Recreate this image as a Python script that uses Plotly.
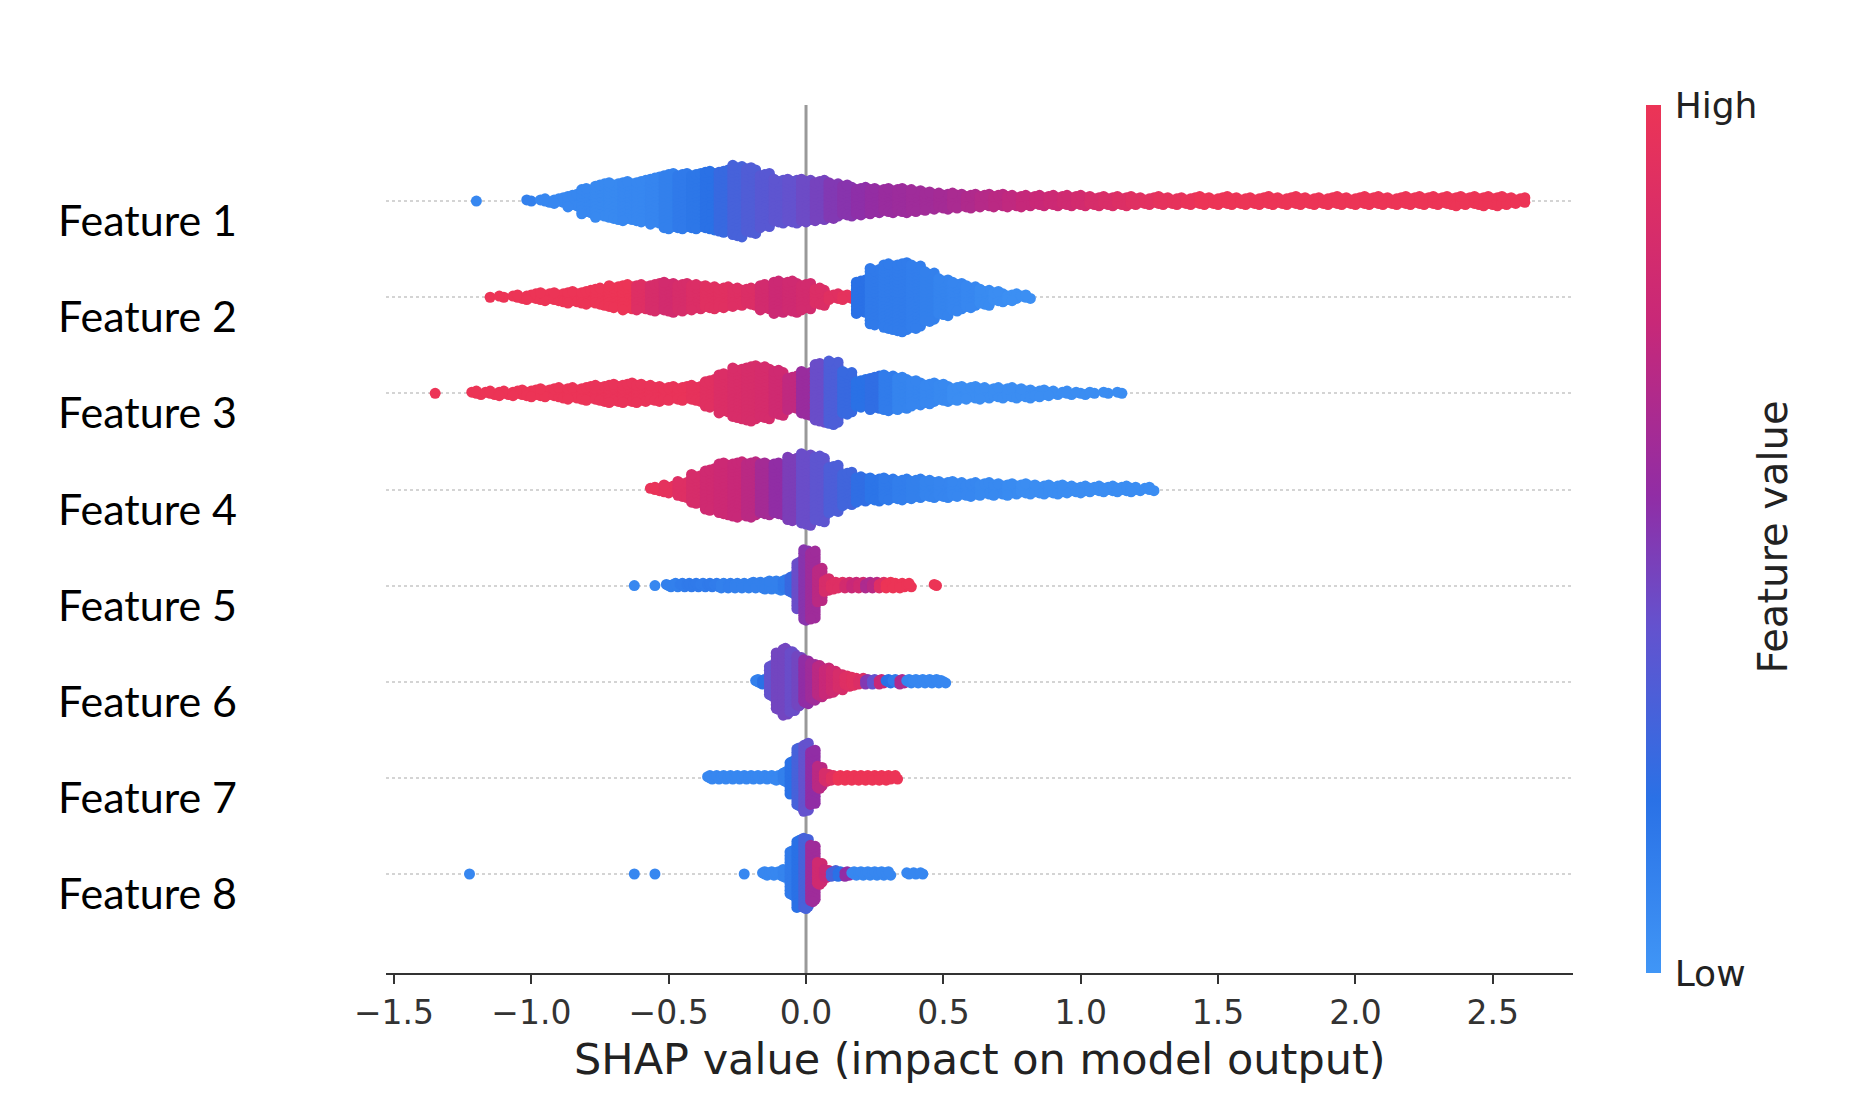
"""
SHAP beeswarm summary plot (8 features) rebuilt with Plotly.
Each feature is stored as a histogram of SHAP values: bin centre,
number of points in the bin and mean feature value (0 = low, 1 = high).
The swarm layout (vertical stacking inside a bin) is done in swarm().
"""

import plotly.graph_objects as go

FEATURES = ["Feature 1", "Feature 2", "Feature 3", "Feature 4",
            "Feature 5", "Feature 6", "Feature 7", "Feature 8"]

X_TICKS = [-1.5, -1.0, -0.5, 0.0, 0.5, 1.0, 1.5, 2.0, 2.5]
X_TICK_TEXT = ["\u22121.5", "\u22121.0", "\u22120.5", "0.0", "0.5", "1.0", "1.5", "2.0", "2.5"]

# ── Feature 1 (bins of 0.05) ────────────────────────────────────────────────
F1_SHAP = [-1.20, -1.00, -0.95, -0.90, -0.85, -0.80, -0.75, -0.70, -0.65, -0.60,
           -0.55, -0.50, -0.45, -0.40, -0.35, -0.30, -0.25, -0.20, -0.15, -0.10,
           -0.05, 0.00, 0.05, 0.10, 0.15, 0.20, 0.25, 0.30, 0.35, 0.40,
           0.45, 0.50, 0.55, 0.60, 0.65, 0.70, 0.75, 0.80, 0.85, 0.90,
           0.95, 1.00, 1.05, 1.10, 1.15, 1.20, 1.25, 1.30, 1.35, 1.40,
           1.45, 1.50, 1.55, 1.60, 1.65, 1.70, 1.75, 1.80, 1.85, 1.90,
           1.95, 2.00, 2.05, 2.10, 2.15, 2.20, 2.25, 2.30, 2.35, 2.40,
           2.45, 2.50, 2.55, 2.60]
F1_COUNT = [1, 2, 4, 6, 12, 23, 30, 33, 35, 37,
            42, 49, 49, 49, 52, 55, 63, 58, 48, 39,
            39, 38, 36, 32, 28, 25, 23, 22, 22, 20,
            17, 15, 14, 13, 12, 12, 11, 11, 10, 10,
            10, 10, 9, 9, 9, 8, 7, 8, 7, 7,
            8, 7, 8, 7, 7, 8, 7, 8, 7, 7,
            8, 7, 8, 8, 7, 8, 8, 8, 9, 8,
            9, 9, 8, 6]
F1_VALUE = [0.08, 0.12, 0.08, 0.08, 0.08, 0.08, 0.07, 0.07, 0.08, 0.08,
            0.09, 0.12, 0.15, 0.17, 0.20, 0.25, 0.30, 0.33, 0.36, 0.38,
            0.40, 0.43, 0.46, 0.50, 0.52, 0.54, 0.56, 0.58, 0.59, 0.60,
            0.61, 0.62, 0.64, 0.66, 0.68, 0.70, 0.72, 0.74, 0.76, 0.78,
            0.80, 0.82, 0.85, 0.87, 0.89, 0.91, 0.93, 0.95, 0.96, 0.98,
            1.0, 1.0, 1.0, 1.0, 1.0, 1.0, 1.0, 1.0, 1.0, 1.0,
            1.0, 1.0, 1.0, 1.0, 1.0, 1.0, 1.0, 1.0, 1.0, 1.0,
            1.0, 1.0, 1.0, 1.0]

# ── Feature 2 (bins of 0.05) ────────────────────────────────────────────────
F2_SHAP = [-1.15, -1.10, -1.05, -1.00, -0.95, -0.90, -0.85, -0.80, -0.75, -0.70,
           -0.65, -0.60, -0.55, -0.50, -0.45, -0.40, -0.35, -0.30, -0.25, -0.20,
           -0.15, -0.10, -0.05, 0.00, 0.05, 0.10, 0.15, 0.20, 0.25, 0.30,
           0.35, 0.40, 0.45, 0.50, 0.55, 0.60, 0.65, 0.70, 0.75, 0.80]
F2_COUNT = [1, 2, 4, 6, 8, 9, 11, 13, 16, 20,
            23, 23, 25, 27, 25, 23, 21, 19, 17, 16,
            23, 29, 28, 24, 16, 6, 5, 30, 50, 58,
            61, 56, 44, 33, 26, 20, 15, 10, 7, 4]
F2_VALUE = [1.0, 1.0, 1.0, 1.0, 1.0, 1.0, 1.0, 1.0, 1.0, 1.0,
            1.0, 0.90, 0.85, 0.82, 0.85, 0.88, 0.92, 0.92, 0.90, 0.88,
            0.82, 0.78, 0.80, 0.82, 0.88, 0.92, 0.95, 0.20, 0.15, 0.14,
            0.14, 0.13, 0.12, 0.10, 0.09, 0.08, 0.06, 0.05, 0.04, 0.04]

# ── Feature 3 (bins of 0.05) ────────────────────────────────────────────────
F3_SHAP = [-1.35, -1.20, -1.15, -1.10, -1.05, -1.00, -0.95, -0.90, -0.85, -0.80,
           -0.75, -0.70, -0.65, -0.60, -0.55, -0.50, -0.45, -0.40, -0.35, -0.30,
           -0.25, -0.20, -0.15, -0.10, -0.05, 0.00, 0.05, 0.10, 0.15, 0.20,
           0.25, 0.30, 0.35, 0.40, 0.45, 0.50, 0.55, 0.60, 0.65, 0.70,
           0.75, 0.80, 0.85, 0.90, 0.95, 1.00, 1.05, 1.10, 1.15]
F3_COUNT = [1, 4, 4, 5, 6, 7, 8, 10, 11, 13,
            15, 17, 18, 17, 15, 13, 13, 15, 25, 35,
            45, 49, 46, 40, 30, 39, 52, 56, 38, 25,
            30, 32, 29, 23, 19, 16, 13, 12, 11, 10,
            10, 9, 7, 5, 4, 3, 2, 2, 2]
F3_VALUE = [1.0, 1.0, 1.0, 1.0, 1.0, 1.0, 1.0, 0.99, 0.99, 0.99,
            0.98, 0.98, 0.98, 0.98, 0.98, 0.98, 0.98, 0.96, 0.92, 0.88,
            0.86, 0.85, 0.84, 0.80, 0.72, 0.58, 0.42, 0.32, 0.25, 0.20,
            0.22, 0.14, 0.10, 0.09, 0.08, 0.07, 0.05, 0.05, 0.05, 0.05,
            0.05, 0.05, 0.05, 0.05, 0.05, 0.05, 0.05, 0.05, 0.05]

# ── Feature 4 (bins of 0.05) ────────────────────────────────────────────────
F4_SHAP = [-0.55, -0.50, -0.45, -0.40, -0.35, -0.30, -0.25, -0.20, -0.15, -0.10,
           -0.05, 0.00, 0.05, 0.10, 0.15, 0.20, 0.25, 0.30, 0.35, 0.40,
           0.45, 0.50, 0.55, 0.60, 0.65, 0.70, 0.75, 0.80, 0.85, 0.90,
           0.95, 1.00, 1.05, 1.10, 1.15, 1.20, 1.25]
F4_COUNT = [4, 8, 15, 26, 37, 46, 49, 49, 46, 46,
            56, 63, 58, 42, 30, 23, 21, 20, 19, 18,
            16, 15, 14, 13, 12, 11, 11, 10, 9, 9,
            8, 7, 6, 6, 6, 5, 4]
F4_VALUE = [0.98, 0.95, 0.90, 0.85, 0.80, 0.78, 0.75, 0.70, 0.62, 0.55,
            0.48, 0.42, 0.38, 0.32, 0.28, 0.22, 0.18, 0.15, 0.13, 0.12,
            0.10, 0.09, 0.08, 0.08, 0.07, 0.07, 0.06, 0.05, 0.05, 0.05,
            0.05, 0.05, 0.05, 0.05, 0.05, 0.05, 0.05]

# ── Feature 5 (bins of 0.025) ───────────────────────────────────────────────
F5_SHAP = [-0.625, -0.55, -0.50, -0.475, -0.45, -0.425, -0.40, -0.375, -0.35, -0.325,
           -0.30, -0.275, -0.25, -0.225, -0.20, -0.175, -0.15, -0.125, -0.10, -0.075,
           -0.05, -0.025, 0.0, 0.025, 0.05, 0.075, 0.10, 0.125, 0.15, 0.175,
           0.20, 0.225, 0.25, 0.275, 0.30, 0.325, 0.35, 0.375, 0.475]
F5_COUNT = [1, 1, 3, 4, 4, 4, 4, 4, 4, 4,
            5, 5, 5, 5, 6, 6, 7, 8, 9, 10,
            16, 42, 62, 60, 30, 12, 7, 6, 6, 6,
            6, 6, 6, 6, 6, 5, 5, 4, 2]
F5_VALUE = [0.08, 0.08, 0.12, 0.12, 0.14, 0.15, 0.15, 0.14, 0.15, 0.14,
            0.12, 0.13, 0.12, 0.12, 0.12, 0.12, 0.12, 0.12, 0.12, 0.15,
            0.25, 0.42, 0.52, 0.60, 0.70, 0.85, 0.90, 0.90, 0.82, 0.75,
            0.80, 0.65, 0.70, 0.90, 1.0, 1.0, 1.0, 1.0, 1.0]

# ── Feature 6 (bins of 0.025) ───────────────────────────────────────────────
F6_SHAP = [-0.175, -0.15, -0.125, -0.10, -0.075, -0.05, -0.025, 0.0, 0.025, 0.05,
           0.075, 0.10, 0.125, 0.15, 0.175, 0.20, 0.225, 0.25, 0.275, 0.30,
           0.325, 0.35, 0.375, 0.40, 0.425, 0.45, 0.475, 0.50]
F6_COUNT = [4, 5, 28, 50, 59, 53, 44, 39, 33, 28,
            24, 20, 15, 10, 8, 6, 5, 5, 5, 4,
            4, 5, 4, 4, 4, 4, 4, 3]
F6_VALUE = [0.12, 0.20, 0.40, 0.45, 0.45, 0.42, 0.45, 0.55, 0.60, 0.70,
            0.75, 0.80, 0.85, 0.90, 0.92, 0.88, 0.50, 0.40, 0.75, 0.20,
            0.15, 0.65, 0.10, 0.08, 0.08, 0.08, 0.08, 0.08]

# ── Feature 7 (bins of 0.025) ───────────────────────────────────────────────
F7_SHAP = [-0.35, -0.325, -0.30, -0.275, -0.25, -0.225, -0.20, -0.175, -0.15, -0.125,
           -0.10, -0.075, -0.05, -0.025, 0.0, 0.025, 0.05, 0.075, 0.10, 0.125,
           0.15, 0.175, 0.20, 0.225, 0.25, 0.275, 0.30, 0.325]
F7_COUNT = [4, 4, 4, 4, 4, 4, 4, 4, 4, 4,
            5, 10, 30, 52, 60, 48, 20, 8, 5, 5,
            5, 5, 5, 5, 5, 5, 5, 4]
F7_VALUE = [0.08, 0.08, 0.08, 0.08, 0.08, 0.08, 0.08, 0.08, 0.08, 0.08,
            0.08, 0.12, 0.20, 0.30, 0.40, 0.55, 0.70, 0.85, 0.92, 1.0,
            1.0, 1.0, 1.0, 1.0, 1.0, 1.0, 1.0, 1.0]

# ── Feature 8 (bins of 0.025) ───────────────────────────────────────────────
F8_SHAP = [-1.225, -0.625, -0.55, -0.225, -0.15, -0.125, -0.10, -0.075, -0.05, -0.025,
           0.0, 0.025, 0.05, 0.075, 0.10, 0.125, 0.15, 0.175, 0.20, 0.225,
           0.25, 0.275, 0.30, 0.375, 0.40, 0.425]
F8_COUNT = [1, 1, 1, 1, 4, 4, 4, 8, 40, 60,
            62, 50, 20, 8, 6, 5, 5, 4, 4, 4,
            4, 4, 4, 2, 2, 2]
F8_VALUE = [0.08, 0.08, 0.08, 0.08, 0.08, 0.08, 0.08, 0.10, 0.15, 0.20,
            0.30, 0.60, 0.80, 0.75, 0.30, 0.20, 0.55, 0.08, 0.08, 0.08,
            0.08, 0.08, 0.08, 0.08, 0.08, 0.08]

SERIES = [
    (F1_SHAP, F1_COUNT, F1_VALUE, 0.05),
    (F2_SHAP, F2_COUNT, F2_VALUE, 0.05),
    (F3_SHAP, F3_COUNT, F3_VALUE, 0.05),
    (F4_SHAP, F4_COUNT, F4_VALUE, 0.05),
    (F5_SHAP, F5_COUNT, F5_VALUE, 0.025),
    (F6_SHAP, F6_COUNT, F6_VALUE, 0.025),
    (F7_SHAP, F7_COUNT, F7_VALUE, 0.025),
    (F8_SHAP, F8_COUNT, F8_VALUE, 0.025),
]

# red_blue style colormap as it appears in the picture
COLORSCALE = [
    [0.0, "rgb(64,150,246)"],
    [0.2, "rgb(42,113,230)"],
    [0.4, "rgb(100,82,206)"],
    [0.55, "rgb(145,45,165)"],
    [0.75, "rgb(200,40,120)"],
    [1.0, "rgb(236,52,86)"],
]

ROW_STEP = 0.012          # vertical spacing between stacked points (row units)
SUB_COLS = (0, -1, 1)     # small horizontal shift inside a bin, so the swarm has no gaps
AXIS_COLOR = "#333333"
TICK_FONT = "DejaVu Sans"


def swarm(shap_bins, counts, values, row, step):
    xs, ys, cs = [], [], []
    for v, n, c in zip(shap_bins, counts, values):
        for k in range(n):
            level = (k + 1) // 2
            sign = 1 if k % 2 else -1
            xs.append(v + SUB_COLS[k % 3] * step / 3)
            ys.append(row + sign * level * ROW_STEP)
            cs.append(c)
    return xs, ys, cs


fig = go.Figure()

n_feat = len(FEATURES)
for i, (shap_bins, counts, values, step) in enumerate(SERIES):
    row = n_feat - 1 - i
    xs, ys, cs = swarm(shap_bins, counts, values, row, step)
    marker = dict(size=11, color=cs, colorscale=COLORSCALE, cmin=0, cmax=1,
                  line=dict(width=0), showscale=(i == 0))
    if i == 0:
        marker["colorbar"] = dict(
            thickness=15, len=1, lenmode="fraction", y=0.5, yanchor="middle",
            x=1.0615, xanchor="left", xpad=0, ypad=0, outlinewidth=0,
            tickvals=[0, 1], ticktext=["Low", "High"],
            ticks="outside", ticklen=7, tickcolor="rgba(0,0,0,0)",
            tickfont=dict(family=TICK_FONT, size=36, color="#222222"),
        )
    fig.add_trace(go.Scatter(x=xs, y=ys, mode="markers", marker=marker,
                             hoverinfo="skip", name=FEATURES[i]))

# vertical line at SHAP = 0 (drawn under the points, as in shap)
fig.add_shape(type="line", x0=0, x1=0, xref="x", y0=0, y1=1, yref="paper",
              line=dict(color="#999999", width=3), layer="below")

# feature names (left-aligned, sitting a little below each row)
for i, name in enumerate(FEATURES):
    fig.add_annotation(text=name, xref="paper", x=-0.278, xanchor="left",
                       yref="y", y=n_feat - 1 - i - 0.193, yanchor="middle",
                       showarrow=False,
                       font=dict(family="Lato", size=43, color="black"))

fig.add_annotation(text="SHAP value (impact on model output)", xref="paper", x=0.5,
                   yref="paper", y=-0.099, yanchor="middle", showarrow=False,
                   font=dict(family=TICK_FONT, size=43, color="#222222"))

fig.add_annotation(text="Feature value", xref="paper", x=1.1898, yref="paper", y=0.502,
                   textangle=-90, showarrow=False,
                   font=dict(family=TICK_FONT, size=40, color="#222222"))

fig.update_layout(
    width=1868, height=1106,
    margin=dict(l=378, r=303, t=97, b=141),
    plot_bgcolor="white", paper_bgcolor="white",
    showlegend=False,
    xaxis=dict(range=[-1.529, 2.792], tickvals=X_TICKS, ticktext=X_TICK_TEXT,
               ticks="outside", ticklen=9, tickwidth=2, tickcolor=AXIS_COLOR,
               showline=True, linecolor=AXIS_COLOR, linewidth=2,
               showgrid=False, zeroline=False,
               tickfont=dict(family=TICK_FONT, size=33, color=AXIS_COLOR)),
    yaxis=dict(range=[-1.03, 8.0], tickvals=list(range(n_feat)), showticklabels=False,
               ticks="", showgrid=True, griddash="dot", gridcolor="#d4d4d4",
               gridwidth=1.5, zeroline=False, showline=False),
)

fig.write_html("out.html")
